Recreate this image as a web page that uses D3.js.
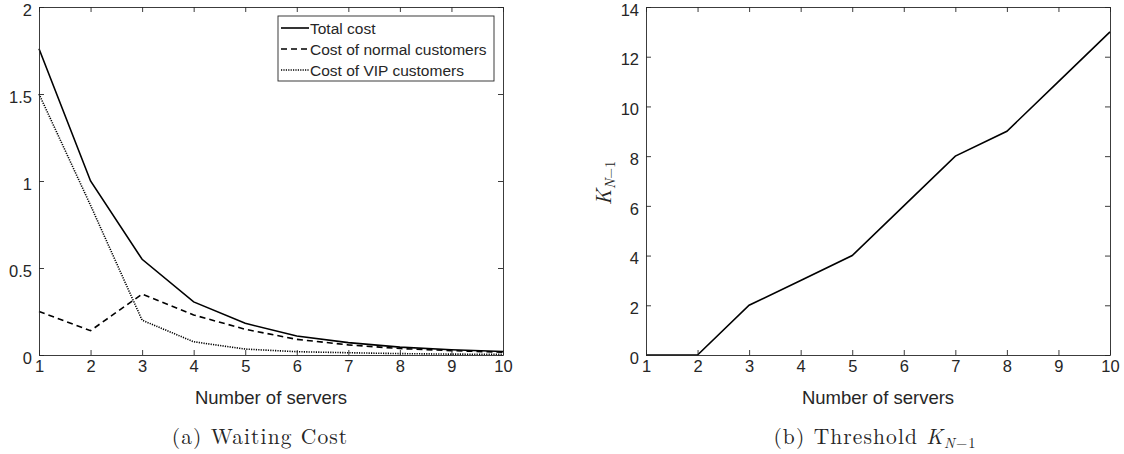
<!DOCTYPE html>
<html>
<head>
<meta charset="utf-8">
<script src="https://cdn.jsdelivr.net/npm/d3@7"></script>
<style>
  body { margin: 0; background: #fff; }
  svg text { fill: #262626; }
</style>
</head>
<body>
<svg id="chart" width="1124" height="454"></svg>
<script>
// servers 1..10
var servers = [1, 2, 3, 4, 5, 6, 7, 8, 9, 10];

// (a) waiting cost
var totalCost  = [1.76, 1.00, 0.55, 0.305, 0.182, 0.109, 0.071, 0.045, 0.030, 0.020];
var normalCost = [0.25, 0.14, 0.35, 0.230, 0.148, 0.090, 0.058, 0.037, 0.025, 0.016];
var vipCost    = [1.50, 0.86, 0.20, 0.076, 0.034, 0.019, 0.013, 0.008, 0.005, 0.004];

// (b) threshold
var threshold = [0, 0, 2, 3, 4, 6, 8, 9, 11, 13];

var costTicks = [0, 0.5, 1, 1.5, 2];
var thresholdTicks = [0, 2, 4, 6, 8, 10, 12, 14];

var svg = d3.select('#chart');
var axisColor = '#262626';
var sans = 'Liberation Sans, Arial, sans-serif';
var serif = 'Latin Modern Roman, Liberation Serif, DejaVu Serif, serif';

function panel(left, yMax, yTicks, series) {
  var top = 7, bottom = 355, w = 464;
  var x = d3.scaleLinear().domain([1, 10]).range([left, left + w]);
  var y = d3.scaleLinear().domain([0, yMax]).range([bottom, top]);
  var g = svg.append('g');

  // lines
  var line = d3.line()
    .x(function (d, i) { return x(servers[i]); })
    .y(function (d) { return y(d); });
  series.forEach(function (s) {
    g.append('path')
      .datum(s.values)
      .attr('d', line)
      .attr('fill', 'none')
      .attr('stroke', '#000')
      .attr('stroke-width', 1.6)
      .attr('stroke-dasharray', s.dash || null);
  });

  // axes: ticks inward, mirrored box
  var tickLen = 5;
  var xb = d3.axisBottom(x).tickValues(servers).tickSizeInner(-tickLen).tickSizeOuter(0).tickPadding(5);
  var xt = d3.axisTop(x).tickValues(servers).tickSizeInner(-tickLen).tickSizeOuter(0).tickFormat('');
  var yl = d3.axisLeft(y).tickValues(yTicks).tickSizeInner(-tickLen).tickSizeOuter(0).tickPadding(7).tickFormat(d3.format('~g'));
  var yr = d3.axisRight(y).tickValues(yTicks).tickSizeInner(-tickLen).tickSizeOuter(0).tickFormat('');

  [[xb, 'translate(0,' + bottom + ')'], [xt, 'translate(0,' + top + ')'],
   [yl, 'translate(' + left + ',0)'], [yr, 'translate(' + (left + w) + ',0)']].forEach(function (a, k) {
    var ax = g.append('g').attr('transform', a[1]).call(a[0]);
    ax.selectAll('path, line').attr('stroke', axisColor).attr('stroke-width', 0.9);
    ax.selectAll('text')
      .attr('font-family', sans)
      .attr('font-size', 16.5)
      .attr('fill', axisColor);
    // y labels sit a little below their tick, like the original
    if (k === 2) ax.selectAll('text').attr('dy', '0.5em');
  });

  g.append('text')
    .attr('x', x(5.5)).attr('y', 404)
    .attr('text-anchor', 'middle')
    .attr('font-family', sans)
    .attr('font-size', 18.5)
    .text('Number of servers');

  return { x: x, y: y, g: g };
}

panel(39, 2, costTicks, [
  { values: totalCost },
  { values: normalCost, dash: '6,4' },
  { values: vipCost, dash: '1.2,1.2' }
]);

panel(646, 14, thresholdTicks, [
  { values: threshold }
]);

// legend for (a)
var legendItems = [
  { name: 'Total cost', dash: null },
  { name: 'Cost of normal customers', dash: '6,4' },
  { name: 'Cost of VIP customers', dash: '1.2,1.2' }
];
var lg = svg.append('g').attr('transform', 'translate(278,16)');
lg.append('rect').attr('width', 216).attr('height', 65)
  .attr('fill', '#fff').attr('stroke', axisColor).attr('stroke-width', 0.9);
legendItems.forEach(function (d, i) {
  var cy = 12 + i * 21;
  lg.append('line').attr('x1', 3).attr('x2', 31).attr('y1', cy).attr('y2', cy)
    .attr('stroke', '#000').attr('stroke-width', 1.6)
    .attr('stroke-dasharray', d.dash);
  lg.append('text').attr('x', 32).attr('y', cy + 5.5)
    .attr('font-family', sans)
    .attr('font-size', 15.5)
    .text(d.name);
});

// y label for (b): K_{N-1}
var ylab = svg.append('text')
  .attr('transform', 'translate(611,183) rotate(-90)')
  .attr('text-anchor', 'middle')
  .attr('font-family', serif)
  .attr('font-size', 21);
ylab.append('tspan').attr('font-style', 'italic').text('K');
ylab.append('tspan').attr('dy', 4).attr('font-size', 14).attr('font-style', 'italic').text('N');
ylab.append('tspan').attr('font-size', 14).text('\u22121');

// captions
svg.append('text')
  .attr('x', 260).attr('y', 444)
  .attr('text-anchor', 'middle')
  .attr('font-family', serif)
  .attr('font-size', 21.5)
  .attr('letter-spacing', 1.1)
  .attr('fill', '#000')
  .text('(a) Waiting Cost');

var cap = svg.append('text')
  .attr('x', 875).attr('y', 444)
  .attr('text-anchor', 'middle')
  .attr('font-family', serif)
  .attr('font-size', 21.5)
  .attr('letter-spacing', 1.1);
cap.append('tspan').text('(b) Threshold ');
cap.append('tspan').attr('font-style', 'italic').text('K');
cap.append('tspan').attr('dy', 4).attr('font-size', 14.5).attr('font-style', 'italic').text('N');
cap.append('tspan').attr('font-size', 14.5).text('\u22121');
</script>
</body>
</html>
